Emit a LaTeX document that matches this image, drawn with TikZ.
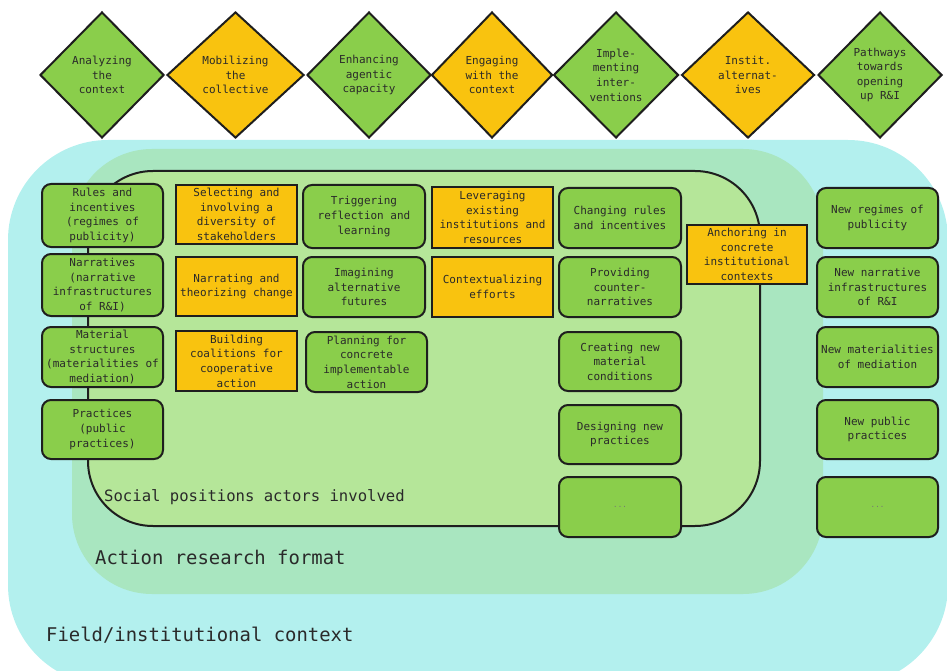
\documentclass[tikz,border=0pt]{standalone}
\usepackage{fontspec}
\usetikzlibrary{shapes.geometric}
\newfontfamily\plexmono{DejaVu Sans Mono}
\definecolor{fieldcyan}{HTML}{B3F0EE}
\definecolor{formatgreen}{HTML}{A9E6C0}
\definecolor{actorgreen}{HTML}{B5E699}
\definecolor{boxgreen}{HTML}{8ACE4B}
\definecolor{boxorange}{HTML}{F9C30F}
\definecolor{edge}{HTML}{1E1E1E}
\definecolor{ink}{HTML}{2A2A2A}

\begin{document}
\begin{tikzpicture}[x=1pt,y=-1pt,
  smallmono/.style={font={\plexmono\fontsize{11}{14.6}\selectfont}, text=ink},
  box/.style={smallmono, draw=edge, line width=2pt, align=center, inner sep=0pt,
    minimum width=121pt, minimum height=60pt},
  gbox/.style={box, fill=boxgreen, rounded corners=9pt},
  obox/.style={box, fill=boxorange},
  dotbox/.style={gbox, font={\plexmono\fontsize{7.5}{9}\selectfont}, text=ink!65},
  phase/.style={diamond, draw=edge, line width=2pt, inner sep=0pt, minimum height=126pt},
  phasetext/.style={smallmono, align=center, inner sep=0pt},
  ctxlabel/.style={anchor=west, text=ink, inner sep=0pt}
]
\clip (0,0) rectangle (947,671);

% nested contexts
\fill[fieldcyan, rounded corners=100pt] (8,140) rectangle (948,685);
\fill[formatgreen, rounded corners=80pt] (72,149) rectangle (823,594);
\draw[edge, line width=2pt, fill=actorgreen, rounded corners=65pt] (88,171) rectangle (760,526);

% context labels
\node[ctxlabel, font={\plexmono\fontsize{15.6}{18}\selectfont}] (actors) at (104,497) {Social positions actors involved};
\node[ctxlabel, font={\plexmono\fontsize{18.9}{22}\selectfont}] (format) at (95,557) {Action research format};
\node[ctxlabel, font={\plexmono\fontsize{18.9}{22}\selectfont}] (field) at (46,635) {Field/institutional context};

% phases
\node[phase, fill=boxgreen, minimum width=124pt] (p1) at (102,75) {};
\node[phasetext] (p1t) at (p1) {Analyzing\\the\\context};
\node[phase, fill=boxorange, minimum width=137pt] (p2) at (235.5,75) {};
\node[phasetext] (p2t) at (p2) {Mobilizing\\the\\collective};
\node[phase, fill=boxgreen, minimum width=124pt] (p3) at (369,75) {};
\node[phasetext] (p3t) at (p3) {Enhancing\\agentic\\capacity};
\node[phase, fill=boxorange, minimum width=121pt] (p4) at (492,75) {};
\node[phasetext] (p4t) at (p4) {Engaging\\with the\\context};
\node[phase, fill=boxgreen, minimum width=125pt] (p5) at (616,75) {};
\node[phasetext] (p5t) at (p5) {Imple-\\menting\\inter-\\ventions};
\node[phase, fill=boxorange, minimum width=133pt] (p6) at (748,75) {};
\node[phasetext] (p6t) at (p6) {Instit.\\alternat-\\ives};
\node[phase, fill=boxgreen, minimum width=124pt] (p7) at (880,75) {};
\node[phasetext] (p7t) at (p7) {Pathways\\towards\\opening\\up R\&I};

% dimensions of publicness
\node[gbox, minimum height=63pt] (d1) at (102.5,215.5) {Rules and\\incentives\\(regimes of\\publicity)};
\node[gbox, minimum height=62pt] (d2) at (102.5,285) {Narratives\\(narrative\\infrastructures\\of R\&I)};
\node[gbox] (d3) at (102.5,357) {Material\\structures\\(materialities of\\mediation)};
\node[gbox, minimum height=59pt] (d4) at (102.5,429.5) {Practices\\(public\\practices)};

% mobilizing the collective
\node[obox, minimum height=59pt] (m1) at (236.5,214.5) {Selecting and\\involving a\\diversity of\\stakeholders};
\node[obox, minimum height=59pt] (m2) at (236.5,286.5) {Narrating and\\theorizing change};
\node[obox] (m3) at (236.5,361) {Building\\coalitions for\\cooperative\\action};

% enhancing agentic capacity
\node[gbox, minimum width=122pt, minimum height=63pt] (a1) at (364,216.5) {Triggering\\reflection and\\learning};
\node[gbox, minimum width=122pt] (a2) at (364,287) {Imagining\\alternative\\futures};
\node[gbox] (a3) at (366.5,362) {Planning for\\concrete\\implementable\\action};

% engaging with the context
\node[obox, minimum height=61pt] (e1) at (492.5,217.5) {Leveraging\\existing\\institutions and\\resources};
\node[obox] (e2) at (492.5,287) {Contextualizing\\efforts};

% implementing interventions
\node[gbox, minimum width=122pt] (i1) at (620,218) {Changing rules\\and incentives};
\node[gbox, minimum width=122pt] (i2) at (620,287) {Providing\\counter-\\narratives};
\node[gbox, minimum width=122pt, minimum height=59pt] (i3) at (620,361.5) {Creating new\\material\\conditions};
\node[gbox, minimum width=122pt, minimum height=59pt] (i4) at (620,434.5) {Designing new\\practices};
\node[dotbox, minimum width=122pt] (i5) at (620,507) {...};

% institutionalizing alternatives
\node[obox, minimum width=120pt, minimum height=59pt] (inst) at (747,254.5) {Anchoring in\\concrete\\institutional\\contexts};

% pathways
\node[gbox] (o1) at (877.5,218) {New regimes of\\publicity};
\node[gbox] (o2) at (877.5,287) {New narrative\\infrastructures\\of R\&I};
\node[gbox] (o3) at (877.5,357) {New materialities\\of mediation};
\node[gbox, minimum height=59pt] (o4) at (877.5,429.5) {New public\\practices};
\node[dotbox] (o5) at (877.5,507) {...};
\end{tikzpicture}
\end{document}
